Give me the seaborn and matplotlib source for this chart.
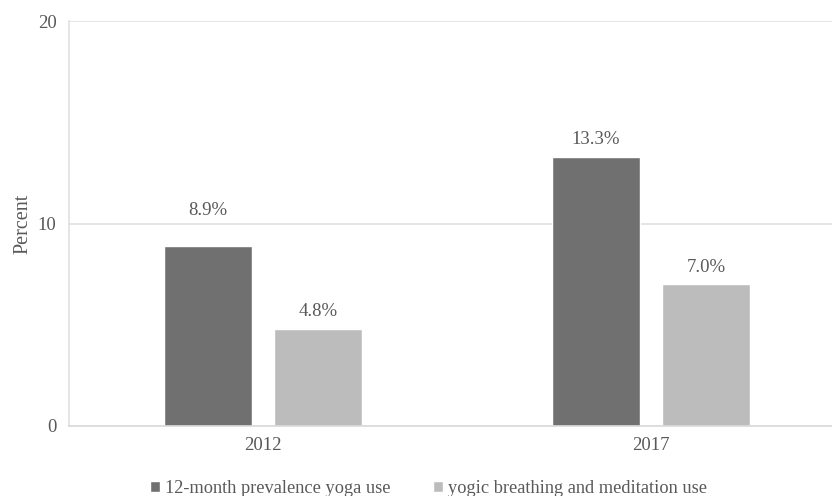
import matplotlib
matplotlib.use("Agg")
import matplotlib.pyplot as plt
import seaborn as sns
import pandas as pd

years = ["2012", "2017"]
series = ["12-month prevalence yoga use", "yogic breathing and meditation use"]
yoga_values = [8.9, 13.3]
breathing_values = [4.8, 7.0]
value_labels = {("2012", series[0]): "8.9%", ("2017", series[0]): "13.3%",
                ("2012", series[1]): "4.8%", ("2017", series[1]): "7.0%"}

df = pd.DataFrame({
    "year": years * 2,
    "series": [series[0]] * 2 + [series[1]] * 2,
    "value": yoga_values + breathing_values,
})

sns.set_theme(style="white")
plt.rcParams["font.family"] = ["Liberation Serif", "DejaVu Serif"]
text_color = "#595959"
fs = 13.5

fig = plt.figure(figsize=(8.32, 4.96), dpi=100)
ax = fig.add_axes([69 / 832, 70 / 496, 1 - 69 / 832, 405 / 496])

palette = {series[0]: "#707070", series[1]: "#bcbcbc"}
sns.barplot(data=df, x="year", y="value", hue="series", order=years,
            hue_order=series, palette=palette, width=0.567, gap=0.2,
            saturation=1, ax=ax, legend=True)

ax.set_ylim(0, 20)
ax.set_yticks([0, 10, 20])
ax.set_xlim(-0.5, 1.5 - 13 / 388)
ax.yaxis.grid(True, color="#e0e0e0", linewidth=1.2)
ax.set_axisbelow(True)
for s in ["top", "right"]:
    ax.spines[s].set_visible(False)
ax.spines["left"].set_color("#e0e0e0")
ax.spines["bottom"].set_color("#d9d9d9")
ax.spines["left"].set_linewidth(1.2)
ax.spines["bottom"].set_linewidth(1.2)
ax.tick_params(axis="both", length=0, labelsize=fs, colors=text_color)
ax.tick_params(axis="y", pad=9)
ax.tick_params(axis="x", pad=8)
ax.set_xlabel("")
ax.set_ylabel("Percent", fontsize=14.5, color=text_color, labelpad=4)

for container, s in zip(ax.containers, series):
    for bar, yr in zip(container, years):
        h = bar.get_height()
        pad = 19 if (yr == "2012" and s == series[0]) else 6
        ax.annotate(value_labels[(yr, s)], (bar.get_x() + bar.get_width() / 2, h),
                    xytext=(0, pad), textcoords="offset points", ha="center",
                    va="bottom", fontsize=fs, color=text_color)

handles, labels = ax.get_legend_handles_labels()
ax.legend_.remove()
fig.legend(handles, labels, loc="lower center", bbox_to_anchor=(0.515, -0.036),
           ncol=2, frameon=False, fontsize=13.2, handlelength=0.55,
           handleheight=0.55, handletextpad=0.3, columnspacing=2.3,
           labelcolor=text_color)

fig.savefig("out.png", dpi=100)
